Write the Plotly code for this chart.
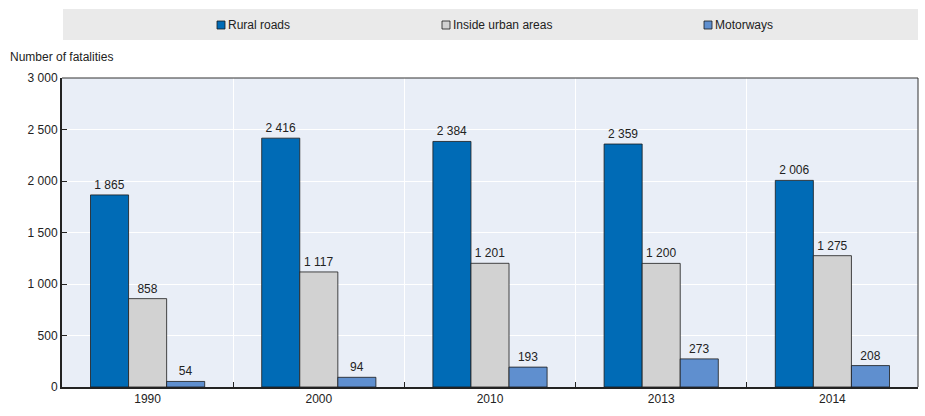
import plotly.graph_objects as go

years = ["1990", "2000", "2010", "2013", "2014"]
rural_roads = [1865, 2416, 2384, 2359, 2006]
inside_urban = [858, 1117, 1201, 1200, 1275]
motorways = [54, 94, 193, 273, 208]
series_names = ["Rural roads", "Inside urban areas", "Motorways"]
y_ticks = [0, 500, 1000, 1500, 2000, 2500, 3000]

colors = ["#006BB6", "#D2D2D2", "#5F8FCF"]
FONT = "Liberation Sans Narrow, Arial Narrow, Liberation Sans, Arial, sans-serif"

def fmt(v):
    return f"{v:,}".replace(",", " ")

fig = go.Figure()
for name, vals, c in zip(series_names, [rural_roads, inside_urban, motorways], colors):
    fig.add_trace(go.Bar(
        x=years, y=vals, name=name,
        marker=dict(color=c, line=dict(color="#1a1a1a", width=0.8)),
        text=[fmt(v) for v in vals], textposition="outside",
        textfont=dict(size=12, color="#222222", family=FONT),
        cliponaxis=False, showlegend=False,
    ))

W, H = 925, 416
L, R, T, B = 62, 7, 78, 29
pw, ph = W - L - R, H - T - B

def px_x(p):
    return (p - L) / pw

def px_y(p):
    return (H - B - p) / ph

shapes = [
    # legend background
    dict(type="rect", xref="paper", yref="paper", x0=px_x(63), x1=1.0,
         y0=px_y(40), y1=px_y(9), fillcolor="#EAEAEA", line=dict(width=0), layer="below"),
    # plot frame top/right
    dict(type="line", xref="paper", yref="paper", x0=0, x1=1, y0=1, y1=1,
         line=dict(color="#333333", width=1)),
    dict(type="line", xref="paper", yref="paper", x0=1, x1=1, y0=0, y1=1,
         line=dict(color="#333333", width=1)),
]
annotations = []
legend_sq_x = [217, 442, 704]
for name, c, sx in zip(series_names, colors, legend_sq_x):
    shapes.append(dict(type="rect", xref="paper", yref="paper",
                       x0=px_x(sx), x1=px_x(sx + 8), y0=px_y(29), y1=px_y(21),
                       fillcolor=c, line=dict(color="#1a1a1a", width=0.8)))
    annotations.append(dict(xref="paper", yref="paper", x=px_x(sx + 9), y=px_y(25),
                            text=name, showarrow=False, xanchor="left", yanchor="middle",
                            font=dict(size=12, color="#222222", family=FONT)))
annotations.append(dict(xref="paper", yref="paper", x=px_x(8), y=px_y(57),
                        text="Number of fatalities", showarrow=False,
                        xanchor="left", yanchor="middle",
                        font=dict(size=12, color="#222222", family=FONT)))

fig.update_layout(
    width=W, height=H,
    margin=dict(l=L, r=R, t=T, b=B),
    barmode="group", bargap=0.333, bargroupgap=0,
    plot_bgcolor="#E9EEF7", paper_bgcolor="white",
    font=dict(family=FONT, size=12, color="#222222"),
    shapes=shapes, annotations=annotations,
    xaxis=dict(type="category", tickson="boundaries", ticks="inside", ticklen=5,
               tickcolor="#222222", showgrid=True, gridcolor="white", gridwidth=1,
               showline=True, linecolor="#222222", linewidth=2,
               tickfont=dict(size=12, family=FONT)),
    yaxis=dict(range=[0, 3000], tickvals=y_ticks, ticktext=[fmt(v) for v in y_ticks],
               ticks="inside", ticklen=5, tickcolor="#222222",
               showgrid=True, gridcolor="white", gridwidth=1,
               showline=True, linecolor="#222222", linewidth=2, zeroline=False,
               tickfont=dict(size=12, family=FONT)),
)

fig.write_html("out.html", config={"displayModeBar": False},
               post_script="document.body.style.margin='0';document.body.style.overflow='hidden';")
